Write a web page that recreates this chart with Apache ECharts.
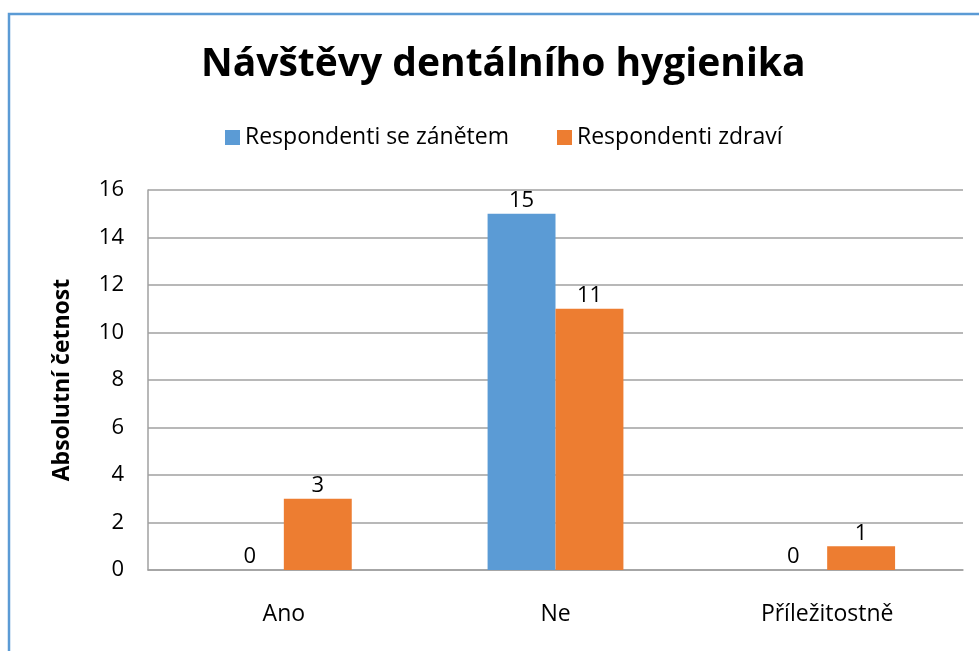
<!DOCTYPE html>
<html>
<head>
<meta charset="utf-8">
<script src="https://cdn.jsdelivr.net/npm/echarts@6/dist/echarts.min.js"></script>
<style>
html, body { margin: 0; padding: 0; background: #fff; }
#chart { width: 979px; height: 651px; }
</style>
</head>
<body>
<div id="chart"></div>
<script>
var titleText = 'Návštěvy dentálního hygienika';
var categories = ['Ano', 'Ne', 'Příležitostně'];
var seriesNames = ['Respondenti se zánětem', 'Respondenti zdraví'];
var zanetem = [0, 15, 0];
var zdravi = [3, 11, 1];
var yName = 'Absolutní četnost';

var font = 'Open Sans';
var chart = echarts.init(document.getElementById('chart'));

// popisky nad sloupci
var barLabel = {
	show: true,
	position: 'top',
	distance: 2,
	color: '#000',
	fontFamily: font,
	fontSize: 22
};

var options = {
	backgroundColor: '#fff',
	title: {
		text: titleText,
		left: 196,
		top: 40,
		textStyle: { fontFamily: font, fontSize: 39, fontWeight: 'bold', color: '#000' }
	},
	legend: {
		top: 121,
		left: 220,
		itemWidth: 15,
		itemHeight: 15,
		itemGap: 48,
		icon: 'rect',
		textStyle: { fontFamily: font, fontSize: 23, color: '#000' },
		data: seriesNames
	},
	grid: {
		left: 148,
		right: 16,
		top: 190,
		bottom: 81
	},
	xAxis: {
		type: 'category',
		data: categories,
		axisLine: { lineStyle: { color: '#a0a0a0', width: 1.5 } },
		axisTick: { show: false },
		axisLabel: { fontFamily: font, fontSize: 23, color: '#000', margin: 33 }
	},
	yAxis: {
		type: 'value',
		min: 0,
		max: 16,
		interval: 2,
		name: yName,
		nameLocation: 'middle',
		nameGap: 74,
		nameTextStyle: { fontFamily: font, fontSize: 23, fontWeight: 'bold', color: '#000' },
		axisLine: { show: true, lineStyle: { color: '#a0a0a0', width: 1.5 } },
		axisTick: { show: false },
		axisLabel: { fontFamily: font, fontSize: 22, color: '#000', margin: 24 },
		splitLine: { lineStyle: { color: '#a0a0a0', width: 1.5 } }
	},
	graphic: [
		{
			type: 'rect',
			shape: { x: 9, y: 14, width: 1000, height: 700 },
			style: { fill: 'none', stroke: '#5b9bd5', lineWidth: 2.5 },
			silent: true
		}
	],
	series: [
		{
			name: seriesNames[0],
			type: 'bar',
			data: zanetem,
			barGap: '0%',
			barCategoryGap: '50%',
			itemStyle: { color: '#5b9bd5' },
			label: barLabel
		},
		{
			name: seriesNames[1],
			type: 'bar',
			data: zdravi,
			itemStyle: { color: '#ed7d31' },
			label: barLabel
		}
	]
};

chart.setOption(options);
</script>
</body>
</html>
